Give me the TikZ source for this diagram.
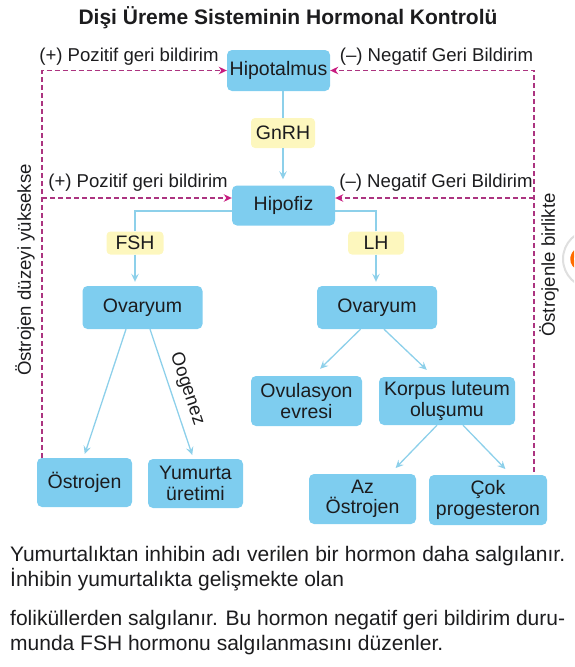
\documentclass[tikz,border=0pt]{standalone}
\usepackage{fontspec}
\setmainfont{Liberation Sans}
\usetikzlibrary{arrows.meta}

\definecolor{kutumavi}{RGB}{126,205,239}
\definecolor{hormonsari}{RGB}{253,247,190}
\definecolor{okmavi}{RGB}{141,208,234}
\definecolor{geripembe}{RGB}{172,52,128}
\definecolor{geriuc}{RGB}{200,28,128}
\definecolor{yazi}{RGB}{28,28,30}

\begin{document}
\begin{tikzpicture}[x=1pt,y=-1pt,
  kutu/.style={fill=kutumavi,rounded corners=5pt,inner sep=0pt,align=center,text=yazi,font=\fontsize{19.5}{20.5}\selectfont},
  hormon/.style={fill=hormonsari,rounded corners=4pt,inner sep=0pt,text=yazi,font=\fontsize{19.5}{20}\selectfont},
  cizgi/.style={draw=okmavi,line width=1.3pt},
  akis/.style={cizgi,-{Stealth[length=8pt,width=7.5pt,inset=3pt]}},
  geri/.style={draw=geripembe,line width=1.4pt,dash pattern=on 5pt off 3pt,-{Stealth[length=8pt,width=7.5pt,inset=2.5pt,color=geriuc]}},
  etiket/.style={text=yazi,inner sep=0pt,font=\fontsize{18.6}{20}\selectfont},
  govde/.style={text=yazi,inner sep=0pt,anchor=base west,font=\fontsize{21}{25}\selectfont}]
  \useasboundingbox (0,0) rectangle (574,667);
  % ---------------- baslik ----------------
  \node[text=yazi,font=\bfseries\fontsize{21}{23}\selectfont] (baslik) at (288,18) {Dişi Üreme Sisteminin Hormonal Kontrolü};
  % ---------------- kutular ----------------
  \node[kutu,minimum width=103,minimum height=41] (hipotalamus) at (278.5,70.5) {Hipotalmus};
  \node[hormon,minimum width=64,minimum height=30] (gnrh) at (283,133) {GnRH};
  \node[kutu,minimum width=103,minimum height=40] (hipofiz) at (283.5,205.5) {Hipofiz};
  \node[hormon,minimum width=57,minimum height=23] (fsh) at (135,243) {FSH};
  \node[hormon,minimum width=56,minimum height=23] (lh) at (376,243) {LH};
  \node[kutu,minimum width=120,minimum height=43] (ovaryumA) at (142.5,307.5) {Ovaryum};
  \node[kutu,minimum width=120,minimum height=43] (ovaryumB) at (377,307.5) {Ovaryum};
  \node[kutu,minimum width=95,minimum height=49] (ostrojen) at (84.5,482.5) {Östrojen};
  \node[kutu,minimum width=95,minimum height=49] (yumurta) at (195.5,483.5) {Yumurta\\üretimi};
  \node[kutu,minimum width=111,minimum height=50] (ovulasyon) at (306.5,401) {Ovulasyon\\evresi};
  \node[kutu,minimum width=136,minimum height=48] (korpus) at (447,401) {Korpus luteum\\oluşumu};
  \node[kutu,minimum width=107,minimum height=50] (azostrojen) at (362.5,499) {Az\\Östrojen};
  \node[kutu,minimum width=118,minimum height=50] (cok) at (488,500) {Çok\\progesteron};
  % ---------------- hormon oklari ----------------
  \draw[cizgi] (hipotalamus.south -| gnrh) -- (gnrh.north);
  \draw[akis,shorten >=6pt] (gnrh.south) -- (gnrh.south |- hipofiz.north);
  \draw[cizgi] (fsh.north) |- ([yshift=-5.5pt]hipofiz.west);
  \draw[cizgi] (lh.north) |- ([yshift=-5.5pt]hipofiz.east);
  \draw[akis,shorten >=4pt] (fsh.south) -- (fsh.south |- ovaryumA.north);
  \draw[akis,shorten >=4pt] (lh.south) -- (lh.south |- ovaryumB.north);
  \draw[akis,shorten >=4pt] ([xshift=-16.5pt]ovaryumA.south) -- ([xshift=-1pt]ostrojen.north);
  \draw[akis,shorten >=4pt] ([xshift=7.5pt]ovaryumA.south) -- node[etiket,sloped,above=7pt] (oogenez) {Oogenez} ([xshift=-2pt]yumurta.north);
  \draw[akis,shorten >=10pt] ([xshift=-16.5pt]ovaryumB.south) -- ([xshift=6.5pt]ovulasyon.north);
  \draw[akis,shorten >=10pt] ([xshift=7pt]ovaryumB.south) -- ([xshift=-13pt]korpus.north);
  \draw[akis,shorten >=8pt] ([xshift=-10pt]korpus.south) -- ([xshift=27.5pt]azostrojen.north);
  \draw[akis,shorten >=8pt] ([xshift=16pt]korpus.south) -- ([xshift=23pt]cok.north);
  % ---------------- geri bildirim ----------------
  \coordinate (solalt) at (42,458);
  \coordinate (sagalt) at (534,472);
  \coordinate (solorta) at (42,198);
  \coordinate (sagorta) at (534,198);
  \draw[geri] (solalt) |- (hipotalamus.west);
  \draw[geri] (sagalt) |- (hipotalamus.east);
  \draw[geri] (solorta) -- (solorta -| hipofiz.west);
  \draw[geri] (sagorta) -- (sagorta -| hipofiz.east);
  \node[etiket] (pozitifA) at (129,57) {(+) Pozitif geri bildirim};
  \node[etiket] (negatifA) at (436.5,57) {(--) Negatif Geri Bildirim};
  \node[etiket] (pozitifB) at (138,183) {(+) Pozitif geri bildirim};
  \node[etiket] (negatifB) at (436,183) {(--) Negatif Geri Bildirim};
  \node[etiket,rotate=90] (yuksekse) at (25,270) {Östrojen düzeyi yüksekse};
  \node[etiket,rotate=90] (birlikte) at (549,265) {Östrojenle birlikte};
  % ---------------- kenardaki simge ----------------
  \begin{scope}
    \clip (0,0) rectangle (574,667);
    \fill[white,draw=gray!25,line width=2pt] (592,259) circle (29);
    \draw[orange!85!red,line width=3.5pt] (582,259) ++(120:10) arc (120:240:10);
  \end{scope}
  % ---------------- metin ----------------
  \node[govde] (satirA) at (10,561) {\makebox[555pt][s]{Yumurtalıktan inhibin adı verilen bir hormon daha salgılanır.}};
  \node[govde] (satirB) at (10,586) {İnhibin yumurtalıkta gelişmekte olan};
  \node[govde] (satirC) at (10,625) {\makebox[555pt][s]{foliküllerden salgılanır. Bu hormon negatif geri bildirim duru-}};
  \node[govde] (satirD) at (10,650) {munda FSH hormonu salgılanmasını düzenler.};
\end{tikzpicture}
\end{document}
